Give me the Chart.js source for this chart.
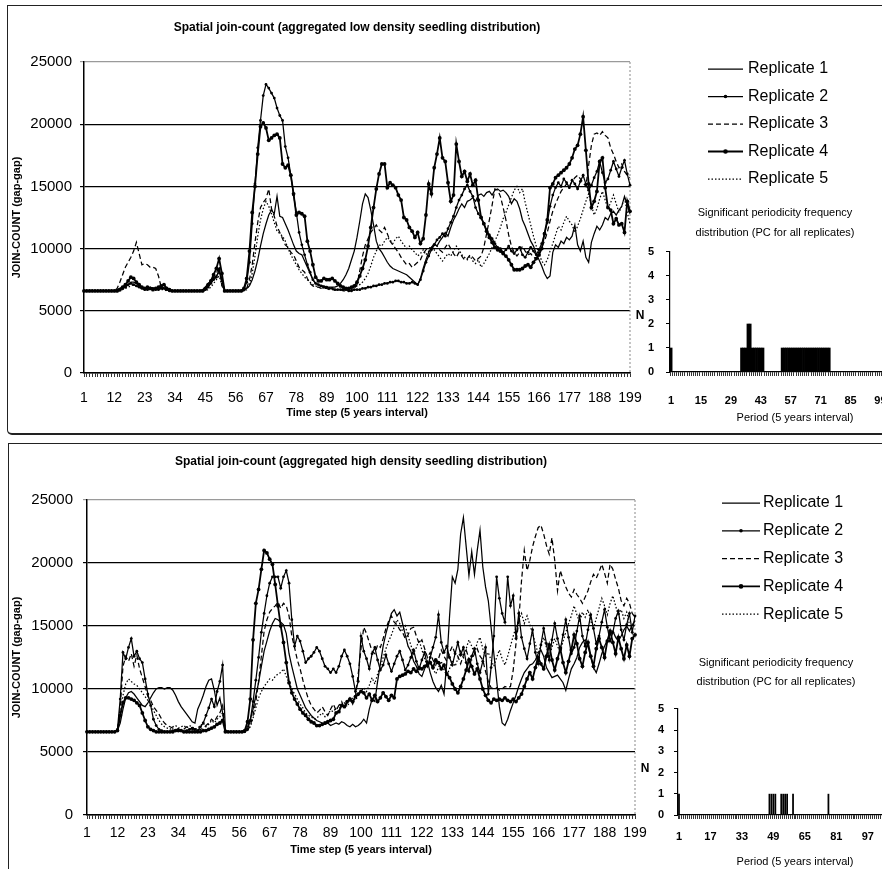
<!DOCTYPE html>
<html>
<head>
<meta charset="utf-8">
<title>Spatial join-count</title>
<script src="https://cdn.jsdelivr.net/npm/chart.js@4.4.1/dist/chart.umd.min.js"></script>
<style>
  html, body { margin: 0; padding: 0; background: #fff; overflow: hidden; }
  body { position: relative; width: 882px; height: 869px; }
  canvas { position: absolute; }
  .frame { position: absolute; border: 1px solid #222; border-right: none; }
  #frameLow { left: 7px; top: 5px; width: 900px; height: 427px; border-bottom-width: 2px; border-radius: 0 0 0 5px; }
  #frameHigh { left: 8px; top: 443px; width: 900px; height: 460px; border-bottom: none; }
</style>
</head>
<body>
<div class="frame" id="frameLow"></div>
<div class="frame" id="frameHigh"></div>
<canvas id="lowLines" width="882" height="430" style="left:0;top:0"></canvas>
<canvas id="lowBars" width="290" height="235" style="left:630px;top:195px"></canvas>
<canvas id="highLines" width="882" height="429" style="left:0;top:440px"></canvas>
<canvas id="highBars" width="272" height="227" style="left:640px;top:645px"></canvas>
<script>
// ---- data -------------------------------------------------------------

const timeSteps = Array.from({ length: 199 }, (_, i) => i + 1);
const timeTickLabels = [1, 12, 23, 34, 45, 56, 67, 78, 89, 100, 111, 122, 133, 144, 155, 166, 177, 188, 199];
const replicateNames = ["Replicate 1", "Replicate 2", "Replicate 3", "Replicate 4", "Replicate 5"];

// aggregated low density seedling distribution
const lowRep1 = [
  6600,6600,6600,6600,6600,6600,6600,6600,6600,6600,
  6600,6600,6700,6800,6900,7000,7100,7300,7300,7200,
  7000,6900,6800,6800,6900,6800,6700,6800,6900,6800,
  6700,6700,6600,6600,6600,6600,6600,6600,6600,6600,
  6600,6600,6600,6700,6900,7200,7400,7600,7800,8100,
  7600,6600,6600,6600,6600,6600,6600,6600,6700,6800,
  7000,7500,8200,9100,10200,11200,12000,12700,13100,12800,
  14200,12600,12500,12000,11500,10900,10300,9800,9600,9500,
  9000,8500,8000,7500,7200,7100,7000,7000,6900,6900,
  6900,6900,7000,7200,7500,7900,8400,9100,9800,10900,
  12200,13600,14400,14100,13100,11900,10600,10000,9700,9300,
  8900,8600,8400,8300,8200,8100,8000,7900,7700,7500,
  7300,7100,7600,8400,9100,9700,10100,10400,10200,10600,
  10900,11300,11000,11700,12300,12700,13200,13600,13300,13800,
  13900,14100,13800,14300,14400,14200,14500,14600,14300,14700,
  14800,14600,14700,14500,14200,13600,14000,13800,13200,12300,
  11800,11200,10600,10200,9600,9100,8600,8000,7600,7800,
  9700,10300,10100,10600,10400,10900,10700,11000,11900,10300,
  9800,10600,9300,8900,10500,11200,11800,11500,11900,12500,
  12300,12800,13000,12700,13100,13400,14200,13500,12800
];
const lowRep2 = [
  6600,6600,6600,6600,6600,6600,6600,6600,6600,6600,
  6600,6600,6600,6700,6800,6900,7100,7200,7100,7000,
  6900,6800,6700,6700,6800,6800,6700,6700,6800,6800,
  6700,6600,6600,6600,6600,6600,6600,6600,6600,6600,
  6600,6600,6600,6600,6700,6900,7200,7500,7700,8300,
  7400,6600,6600,6600,6600,6600,6600,6600,6700,7300,
  8900,12000,15200,18100,20300,22300,23200,22900,22500,22100,
  21300,20700,20300,18200,17300,15900,14300,12900,11300,10300,
  9500,8700,8100,7500,7200,7100,7000,6900,6900,6800,
  6800,6700,6700,6700,6700,6700,6600,6600,6700,6700,
  6700,6800,6800,6900,6900,7000,7000,7100,7100,7200,
  7200,7300,7300,7400,7400,7300,7300,7200,7200,7300,
  7200,7100,7500,8200,8900,9400,9900,10300,10700,10900,
  11200,11000,11600,12100,12600,13300,13900,14300,14800,15100,
  14600,14200,13300,12800,12500,12000,11500,11100,10800,10400,
  10100,10000,9700,9900,10200,9800,9600,9900,10100,9500,
  9300,9700,10100,9800,9500,9900,10400,11200,12100,13400,
  14300,14900,15300,15000,15600,15300,14900,15500,15200,14800,
  15400,15900,15200,14700,15100,15700,16200,17000,16100,15300,
  15600,16300,17000,16400,15800,16500,17100,16000,15100
];
const lowRep3 = [
  6600,6600,6600,6600,6600,6600,6600,6600,6600,6600,
  6600,6600,6800,7300,7900,8500,8900,9300,9800,10500,
  9600,8700,8800,8700,8500,8500,8400,7800,6900,6800,
  6700,6700,6600,6600,6600,6600,6600,6600,6600,6600,
  6600,6600,6600,6600,6700,7000,7300,7700,8000,8600,
  7000,6600,6600,6600,6600,6600,6600,6600,6600,6800,
  7500,8700,10500,12100,13300,13700,14000,14800,13200,12600,
  11800,11300,10800,10300,10100,9700,9500,9000,8500,8300,
  8100,7600,7200,7000,6900,6900,6800,6800,6800,6700,
  6700,6700,6700,6700,6600,6600,6600,6700,6800,7100,
  8200,9400,10300,10800,11300,11600,11900,11500,11300,11700,
  11200,10600,10300,10000,9700,9300,9000,8700,8800,8500,
  8700,8900,9100,9600,9900,10100,10000,10400,10200,9900,
  9700,10100,10400,10000,9600,9300,9700,9400,9100,9200,
  9500,9300,9000,9200,9400,10100,11200,12300,13500,14800,
  14700,14200,13300,12300,11100,10200,9700,9400,9700,10200,
  9800,9500,9600,9300,9200,9600,10100,10600,11300,12200,
  13000,13600,14100,14600,14900,15200,15000,15400,15700,15900,
  15600,15300,15000,16700,18300,19200,19300,19100,19400,19100,
  18900,18100,17600,17000,16500,16800,16200,15900,15700
];
const lowRep4 = [
  6600,6600,6600,6600,6600,6600,6600,6600,6600,6600,
  6600,6600,6600,6700,6900,7100,7400,7700,7600,7300,
  7100,6900,6800,6900,6800,6700,6800,6900,7000,7100,
  6800,6700,6600,6600,6600,6600,6600,6600,6600,6600,
  6600,6600,6600,6600,6800,7100,7400,7900,8400,9200,
  8000,6600,6600,6600,6600,6600,6600,6600,6800,7600,
  9800,12900,15000,17600,19800,20100,19700,18700,18900,19100,
  19200,18900,16800,16500,16700,15900,14400,12700,12900,12800,
  12600,10600,9800,8700,7700,7400,7400,7600,7500,7500,
  7600,7400,7200,7000,6900,6800,6800,6900,7000,7300,
  7800,8400,9100,10200,11700,13300,14800,16000,16800,16800,
  14900,15300,15100,14900,14300,13900,12500,12300,11700,11400,
  10900,11300,10400,10800,12700,15200,14400,16500,17600,18900,
  17300,17000,15300,13800,14300,18400,17000,15800,16200,15400,
  16000,15100,15500,13900,12500,12000,11400,10900,10500,10100,
  9900,9800,9600,9400,9100,8700,8300,8300,8300,8400,
  8600,8700,8500,8900,9200,9500,10000,11200,12300,14900,
  15200,15700,15900,16100,16300,16500,16800,17300,18000,18300,
  19200,20600,17900,15200,13300,13800,14600,17000,17300,14900,
  13300,13100,12000,12400,11900,12000,11300,13800,13000
];
const lowRep5 = [
  6600,6600,6600,6600,6600,6600,6600,6600,6600,6600,
  6600,6600,6600,6600,6700,6800,6900,7000,7100,7000,
  6900,6800,6700,6700,6700,6800,6700,6700,6700,6700,
  6600,6600,6600,6600,6600,6600,6600,6600,6600,6600,
  6600,6600,6600,6600,6600,6700,6900,7200,7500,7800,
  7100,6600,6600,6600,6600,6600,6600,6600,6600,6700,
  7100,8000,9400,11000,12300,13200,13800,13400,12800,12100,
  11400,11200,11000,10600,10000,9500,9100,8700,8300,8000,
  7700,7500,7300,7100,7000,6900,6900,6800,6800,6800,
  6700,6700,6700,6700,6700,6700,6800,6800,6900,7000,
  7100,7300,7600,8000,8600,9300,9800,10300,10200,10600,
  10900,10700,10400,10800,11000,10600,10300,10000,10200,9900,
  9700,9400,9600,9900,9500,9800,10200,9900,9600,9300,
  9000,9300,9600,9400,9800,10200,9900,9500,9300,9100,
  9400,9000,8800,9100,8500,8800,9200,9600,10100,10600,
  11100,11700,12400,12900,13500,14100,14700,15000,14500,14800,
  13700,12800,11900,11000,10200,9600,9000,8700,9100,9800,
  10400,11100,11800,11500,12100,12600,12200,11900,11300,11800,
  12400,13100,13800,14400,13500,12700,13200,14000,14600,13900,
  13200,13700,14300,13600,12900,13400,14100,12900,12000
];

// aggregated high density seedling distribution
const highRep1 = [
  6600,6600,6600,6600,6600,6600,6600,6600,6600,6600,
  6600,6700,7300,8400,9300,9700,9800,9600,9300,9000,
  8700,8600,8900,9300,9700,10000,10100,10100,10000,10100,
  10100,9900,9500,9000,8600,8300,8000,7700,7400,7300,
  8400,8900,9500,10200,10700,10800,9900,8700,9300,8100,
  6700,6600,6600,6600,6600,6600,6600,6700,7000,7600,
  8400,9500,10500,11800,13000,13800,14600,15200,15600,15500,
  15300,15100,14400,12800,11800,10900,10000,9500,9000,8500,
  8200,7900,7700,7500,7400,7300,7200,7300,7100,7200,
  7300,7200,7400,7300,7100,7000,7200,7000,7100,7300,
  7600,7300,8400,9200,9000,10600,12000,13400,14400,15200,
  16000,16300,15800,16100,15200,14300,13400,13000,12200,11800,
  11200,11000,11600,12200,11300,10600,10100,9800,10300,9600,
  12100,15800,18900,18400,19500,22300,23600,21300,19000,20900,
  19100,21000,22600,19700,18100,17000,14900,12800,10700,8600,
  7300,7100,7600,8300,8900,9500,10200,10800,11300,11600,
  11900,12000,12300,12800,13100,12600,11700,11300,10900,11000,
  11100,10800,10500,9900,10800,11600,12000,12500,13300,13700,
  13900,13400,12600,11700,11300,12000,12800,13400,13900,14300,
  14600,14100,13800,14200,14700,15000,14600,15100,15400
];
const highRep2 = [
  6600,6600,6600,6600,6600,6600,6600,6600,6600,6600,
  6600,6800,9200,12900,12400,13300,14000,12600,13000,12400,
  12100,10800,9600,8700,7600,7100,6800,6700,6600,6600,
  6600,6700,6700,6800,6700,6600,6700,6800,6900,6800,
  6700,7000,7300,7900,8500,9200,8600,9800,10600,11900,
  6700,6600,6600,6600,6600,6600,6600,6600,6800,7500,
  9000,10700,12500,14500,16000,17400,18400,18900,18900,18900,
  18000,18900,19400,18400,15500,13400,14200,13800,13000,12100,
  12400,12600,12900,13300,13000,12400,11800,11600,11300,11600,
  11300,11800,12600,13100,12600,12000,11000,9800,10600,14200,
  13000,12400,11600,12800,13300,12300,11500,11900,12700,12000,
  11400,12000,12600,13000,12300,11500,11900,12500,13100,12200,
  11600,12300,12900,11800,12500,13300,14100,15900,13700,12900,
  13400,12500,11900,12800,13700,12700,13300,12100,11400,12600,
  13200,12000,11300,12200,13300,9600,11700,14200,18900,17200,
  16000,15300,18900,16600,17400,14000,16000,14100,13200,12400,
  13600,14700,12900,12000,13500,14800,13600,12300,13900,15200,
  14000,13100,14300,15500,14100,12800,13300,14600,15800,14200,
  13400,14700,15900,14800,13600,14200,15300,16300,14900,13800,
  14500,15600,16200,14700,13900,15100,16000,14500,15800
];
const highRep3 = [
  6600,6600,6600,6600,6600,6600,6600,6600,6600,6600,
  6600,6700,8500,11800,12600,12200,12800,11800,12700,11600,
  10900,10200,9400,9100,8600,8300,8000,7600,7300,7100,
  7000,6900,6800,6800,6700,6800,7000,6900,6800,6700,
  6700,6800,6900,7100,7300,7600,7400,7800,8100,8700,
  6700,6600,6600,6600,6600,6600,6600,6600,6700,7100,
  7900,9000,10600,12600,14600,15500,16100,16400,16600,16900,
  16400,16800,16600,15800,14200,13300,12300,11600,10700,9900,
  9200,8700,8400,8100,8300,8600,8200,7900,8400,8800,
  8300,8700,9000,8500,8900,9300,8800,9400,11200,13200,
  14900,14400,13700,13000,12800,13500,13300,14000,14800,15400,
  15800,15300,15100,14700,14500,14000,14300,14800,14900,14200,
  13600,13900,13200,12500,12900,12300,11900,12400,13100,12600,
  12200,12900,13400,12800,12600,12000,12700,13100,12400,12300,
  12800,13200,12600,12300,11400,10600,10100,10000,10100,9900,
  10000,10200,10100,10200,11500,13600,15400,18600,21000,19400,
  20200,21300,22100,22800,23000,22300,21400,20700,22000,20200,
  17800,19400,18700,18100,17600,17300,17900,17500,17200,16800,
  17300,17800,18500,19100,18800,19300,19900,19200,18400,19900,
  19500,18700,18000,17000,16600,17200,16800,16000,15700
];
const highRep4 = [
  6600,6600,6600,6600,6600,6600,6600,6600,6600,6600,
  6600,6700,7900,8900,9300,9300,9200,9100,8900,8700,
  8100,7500,7000,6800,6700,6600,6600,6600,6600,6600,
  6600,6600,6700,6700,6700,6600,6600,6600,6600,6600,
  6600,6600,6700,6700,6800,6900,7000,7200,7300,7500,
  6600,6600,6600,6600,6600,6600,6600,6700,7400,9200,
  13900,16800,17900,19500,21000,20800,20300,19900,18300,16600,
  15000,13700,12100,10500,9700,9200,8800,8400,8100,7900,
  7600,7400,7300,7100,7100,7200,7300,7400,7500,7600,
  8100,8200,8700,8600,9000,9200,9000,9400,9600,9800,
  9700,9300,9600,9100,9500,9000,9300,9700,9400,9100,
  9500,9300,10800,11000,11100,11200,11400,11300,11600,11400,
  11700,11600,11800,11900,12100,11700,12300,12100,11600,11900,
  11200,10900,10400,10000,9700,10200,10800,11500,12300,11800,
  11200,11600,10800,10000,9500,9100,8900,9200,9100,9200,
  9100,9300,9100,9000,9200,9000,9300,9600,10200,10800,
  11300,10800,11700,12500,12000,11600,12600,13500,12300,11500,
  12400,13200,12100,11300,12200,13100,14300,13600,12400,11800,
  12900,13700,12600,11800,13200,14000,13300,12500,13800,14600,
  13700,12800,14100,13200,12400,13500,12600,14000,14300
];
const highRep5 = [
  6600,6600,6600,6600,6600,6600,6600,6600,6600,6600,
  6600,6700,7800,9500,10400,10800,10600,10400,10300,10000,
  9700,9400,9100,8800,8300,7900,7500,7200,7000,6900,
  6800,7000,7100,6900,7000,7100,6900,7100,7000,6800,
  6900,7100,7300,7000,7200,7500,7300,7600,7800,8100,
  6700,6600,6600,6600,6600,6600,6600,6600,6700,7000,
  7700,8500,9300,9800,10200,10500,10800,10700,11000,11200,
  11300,11600,11000,10500,10000,9600,9200,8800,8500,8100,
  7900,7800,7600,7700,7900,8100,7800,8000,8300,8200,
  8500,8400,8700,8900,8600,9000,9300,9100,9500,9800,
  10100,9800,10300,10900,10400,11200,11800,12500,13200,13800,
  14300,14900,15500,15200,14600,15000,14200,13500,12800,13300,
  13900,13100,12400,11800,12300,11600,11200,11700,12200,11500,
  11100,11600,12300,11800,12400,13000,12500,13200,13900,13400,
  12800,13700,14100,13200,12600,12900,12300,11800,12500,13100,
  12400,11900,12600,13400,14200,14900,15500,16000,15200,15800,
  15100,14400,13600,12800,13500,14100,13300,12600,13300,14000,
  13400,12900,13800,14500,15200,15800,16600,15900,15300,16100,
  15700,16300,15400,14800,15600,16400,17200,16600,15900,16800,
  17400,16600,15800,16300,15600,16100,15100,14800,15200
];

// significant periodicity frequency distribution (N per period)
const lowPeriods = Array.from({ length: 117 }, (_, i) => i + 1);
const lowPeriodTicks = [1, 15, 29, 43, 57, 71, 85, 99];
const lowPeriodCounts = [
  1,0,0,0,0,0,0,0,0,0,
  0,0,0,0,0,0,0,0,0,0,
  0,0,0,0,0,0,0,0,0,0,
  0,0,0,1,1,1,2,2,1,1,
  1,1,1,1,0,0,0,0,0,0,
  0,0,1,1,1,1,1,1,1,1,
  1,1,1,1,1,1,1,1,1,1,
  1,1,1,1,1,0,0,0,0,0,
  0,0,0,0,0,0,0,0,0,0,
  0,0,0,0,0,0,0,0,0,0,
  0,0,0,0,0,0,0,0,0,0,
  0,0,0,0,0,0,0
];
const highPeriods = Array.from({ length: 119 }, (_, i) => i + 1);
const highPeriodTicks = [1, 17, 33, 49, 65, 81, 97];
const highPeriodCounts = [
  1,0,0,0,0,0,0,0,0,0,
  0,0,0,0,0,0,0,0,0,0,
  0,0,0,0,0,0,0,0,0,0,
  0,0,0,0,0,0,0,0,0,0,
  0,0,0,0,0,0,1,1,1,1,
  0,0,1,1,1,1,0,0,1,0,
  0,0,0,0,0,0,0,0,0,0,
  0,0,0,0,0,0,1,0,0,0,
  0,0,0,0,0,0,0,0,0,0,
  0,0,0,0,0,0,0,0,0,0,
  0,0,0,0,0,0,0,0,0,0,
  0,0,0,0,0,0,0,0,0
];

// quick sanity check on hand typed series
[lowRep1, lowRep2, lowRep3, lowRep4, lowRep5, highRep1, highRep2, highRep3, highRep4, highRep5]
  .forEach((s, i) => { if (s.length !== timeSteps.length) throw new Error("series " + i + " has " + s.length + " values"); });
if (lowPeriodCounts.length !== lowPeriods.length) throw new Error("low bars " + lowPeriodCounts.length);
if (highPeriodCounts.length !== highPeriods.length) throw new Error("high bars " + highPeriodCounts.length);

// ---- styling ----------------------------------------------------------

const FONT = "'Liberation Sans', Arial, Helvetica, sans-serif";
Chart.defaults.font.family = FONT;
Chart.defaults.color = "#000";

// line style of each replicate (solid, dot marker, dashed, heavy marker, dotted)
const replicateStyles = [
  { width: 1.25, dash: [], dot: 0 },
  { width: 1.25, dash: [], dot: 1.4 },
  { width: 1.25, dash: [5, 3], dot: 0 },
  { width: 1.8, dash: [], dot: 1.9 },
  { width: 1.25, dash: [1.5, 2], dot: 0 },
];

// key with sample lines, drawn right of the plot
const replicateKey = {
  id: "replicateKey",
  afterDraw(chart, args, opts) {
    const ctx = chart.ctx;
    ctx.save();
    ctx.font = "16px " + FONT;
    ctx.textBaseline = "middle";
    ctx.fillStyle = "#000";
    ctx.strokeStyle = "#000";
    chart.data.datasets.forEach((ds, i) => {
      const y = opts.top + i * opts.rowGap;
      ctx.lineWidth = ds.borderWidth;
      ctx.setLineDash(ds.borderDash);
      ctx.beginPath();
      ctx.moveTo(opts.lineX, y);
      ctx.lineTo(opts.lineX + opts.lineLen, y);
      ctx.stroke();
      ctx.setLineDash([]);
      if (ds.pointRadius > 0) {
        ctx.beginPath();
        ctx.arc(opts.lineX + opts.lineLen / 2, y, ds.pointRadius + 0.4, 0, Math.PI * 2);
        ctx.fill();
      }
      ctx.fillText(ds.label, opts.textX, y);
    });
    ctx.restore();
  },
};

// grey dotted right edge of the plot area
const plotEdge = {
  id: "plotEdge",
  beforeDatasetsDraw(chart) {
    const { ctx, chartArea: a } = chart;
    ctx.save();
    ctx.strokeStyle = "#8a8a8a";
    ctx.lineWidth = 1;
    ctx.setLineDash([2, 2]);
    ctx.beginPath();
    ctx.moveTo(a.right, a.top);
    ctx.lineTo(a.right, a.bottom);
    ctx.stroke();
    ctx.restore();
  },
};

// upright "N" next to the bar chart axis
const axisLetter = {
  id: "axisLetter",
  afterDraw(chart, args, opts) {
    const ctx = chart.ctx;
    ctx.save();
    ctx.font = "bold 12px " + FONT;
    ctx.textAlign = "center";
    ctx.textBaseline = "middle";
    ctx.fillStyle = "#000";
    ctx.fillText("N", opts.x, opts.y);
    ctx.restore();
  },
};

function lineConfig(title, series, g) {
  return {
    type: "line",
    data: {
      labels: timeSteps,
      datasets: series.map((values, i) => ({
        label: replicateNames[i],
        data: values,
        borderColor: "#000",
        backgroundColor: "#000",
        borderWidth: replicateStyles[i].width,
        borderDash: replicateStyles[i].dash,
        pointRadius: replicateStyles[i].dot,
        pointBorderWidth: 0,
        pointBackgroundColor: "#000",
        tension: 0,
        fill: false,
      })),
    },
    options: {
      responsive: false,
      animation: false,
      devicePixelRatio: 1,
      events: [],
      layout: { padding: { left: 0, top: 0, right: g.padRight, bottom: 0 } },
      plugins: {
        legend: { display: false },
        tooltip: { enabled: false },
        title: {
          display: true,
          text: title,
          fullSize: false,
          color: "#000",
          font: { size: 12, weight: "bold" },
          padding: { top: g.titleTop, bottom: g.titleBottom },
        },
        replicateKey: g.key,
      },
      scales: {
        x: {
          type: "category",
          offset: false,
          grid: { drawOnChartArea: false, drawTicks: true, tickLength: 4, color: "#000", lineWidth: 0.8 },
          border: { color: "#000", width: 1.5 },
          ticks: {
            autoSkip: false,
            maxRotation: 0,
            minRotation: 0,
            padding: g.xTickPad,
            font: { size: 14 },
            callback: (v, i) => (timeTickLabels.includes(timeSteps[i]) ? String(timeSteps[i]) : ""),
          },
          title: {
            display: true,
            text: "Time step (5 years interval)",
            font: { size: 11, weight: "bold" },
            padding: { top: 0, bottom: g.xTitleBottom },
          },
          afterFit: (s) => { s.height = g.xHeight; s.paddingLeft = 0; s.paddingRight = 0; },
        },
        y: {
          min: 0,
          max: 25000,
          ticks: { stepSize: 5000, padding: g.yTickPad, font: { size: 15 }, callback: (v) => String(v) },
          grid: {
            color: (c) => (c.tick && c.tick.value === 25000 ? "#9a9a9a" : "#000"),
            lineWidth: 1.2,
            tickLength: 4,
          },
          border: { color: "#000", width: 1.5 },
          title: {
            display: true,
            text: "JOIN-COUNT (gap-gap)",
            font: { size: 11, weight: "bold" },
            padding: { top: 10.4, bottom: 0 },
          },
          afterFit: (s) => { s.width = g.yWidth; s.paddingTop = 0; s.paddingBottom = 0; },
        },
      },
    },
    plugins: [plotEdge, replicateKey],
  };
}

function barConfig(periods, counts, shownTicks, g) {
  return {
    type: "bar",
    data: {
      labels: periods,
      datasets: [{
        label: "N",
        data: counts,
        backgroundColor: "#000",
        borderWidth: 0,
        barPercentage: g.barPct,
        categoryPercentage: 1,
      }],
    },
    options: {
      responsive: false,
      animation: false,
      devicePixelRatio: 1,
      events: [],
      layout: { padding: 0 },
      plugins: {
        legend: { display: false },
        tooltip: { enabled: false },
        title: {
          display: true,
          text: ["Significant periodicity frequency", "distribution (PC for all replicates)"],
          color: "#000",
          font: { size: 11, weight: "normal", lineHeight: g.titleLine },
          padding: { top: g.titleTop, bottom: g.titleBottom },
        },
        axisLetter: g.letter,
      },
      scales: {
        x: {
          type: "category",
          grid: { drawOnChartArea: false, drawTicks: true, tickLength: 4, color: "#000", lineWidth: 0.8 },
          border: { color: "#000", width: 1.2 },
          ticks: {
            autoSkip: false,
            maxRotation: 0,
            minRotation: 0,
            padding: g.xTickPad,
            font: { size: 11, weight: "bold" },
            callback: (v, i) => (shownTicks.includes(periods[i]) ? String(periods[i]) : ""),
          },
          title: {
            display: true,
            text: "Period (5 years interval)",
            font: { size: 11 },
            padding: { top: 0, bottom: g.xTitleBottom },
          },
          afterFit: (s) => { s.height = g.xHeight; s.paddingLeft = 0; s.paddingRight = 0; },
        },
        y: {
          min: 0,
          max: 5,
          ticks: { stepSize: 1, padding: g.yTickPad, font: { size: 11, weight: "bold" } },
          grid: { drawOnChartArea: false, tickLength: 4, color: "#000" },
          border: { color: "#000", width: 1.2 },
          afterFit: (s) => { s.width = g.yWidth; s.paddingTop = 0; s.paddingBottom = 0; },
        },
      },
    },
    plugins: [axisLetter],
  };
}

// ---- charts -----------------------------------------------------------

new Chart(document.getElementById("lowLines"), lineConfig(
  "Spatial join-count (aggregated low density seedling distribution)",
  [lowRep1, lowRep2, lowRep3, lowRep4, lowRep5],
  {
    padRight: 252, titleTop: 20.8, titleBottom: 26.8,
    xHeight: 57, xTickPad: 12.6, xTitleBottom: 10.4,
    yWidth: 84, yTickPad: 8,
    key: { top: 69, rowGap: 27.5, lineX: 708, lineLen: 35, textX: 748 },
  }
));

new Chart(document.getElementById("lowBars"), barConfig(lowPeriods, lowPeriodCounts, lowPeriodTicks, {
  barPct: 1, titleLine: 1.818, titleTop: 8, titleBottom: 9,
  xHeight: 58, xTickPad: 18.4, xTitleBottom: 5.4,
  yWidth: 40, yTickPad: 12,
  letter: { x: 10, y: 121 },
}));

new Chart(document.getElementById("highLines"), lineConfig(
  "Spatial join-count (aggregated high density seedling distribution)",
  [highRep1, highRep2, highRep3, highRep4, highRep5],
  {
    padRight: 247, titleTop: 14.8, titleBottom: 30.8,
    xHeight: 54, xTickPad: 5.6, xTitleBottom: 12.4,
    yWidth: 87, yTickPad: 10,
    key: { top: 63, rowGap: 27.8, lineX: 722, lineLen: 38, textX: 763 },
  }
));

new Chart(document.getElementById("highBars"), barConfig(highPeriods, highPeriodCounts, highPeriodTicks, {
  barPct: 0.9, titleLine: 1.727, titleTop: 8.5, titleBottom: 17.5,
  xHeight: 57, xTickPad: 11.4, xTitleBottom: 3.4,
  yWidth: 38, yTickPad: 10,
  letter: { x: 5, y: 124 },
}));
</script>
</body>
</html>
